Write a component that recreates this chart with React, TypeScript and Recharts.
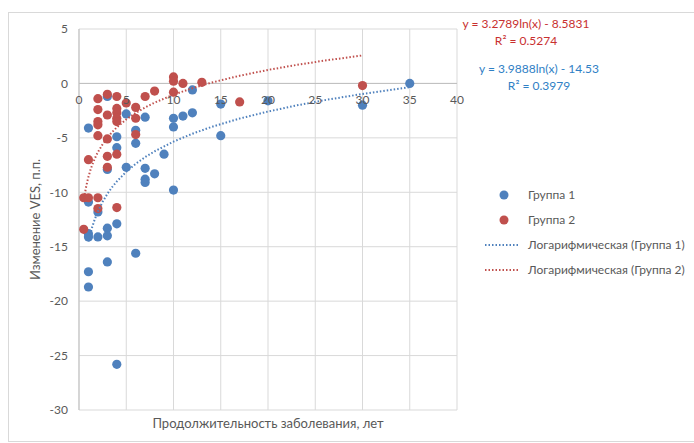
import { ScatterChart, Scatter, XAxis, YAxis, CartesianGrid, ReferenceLine } from 'recharts';

// Группа 1: [лет, изменение VES]
const group1X = [1, 1, 1, 1, 1, 1, 2, 2, 3, 3, 3, 3, 3, 4, 4, 4, 4, 5, 5, 6, 6, 6, 7, 7, 7, 7, 8, 9, 10, 10, 10, 11, 12, 12, 15, 15, 20, 30, 35];
const group1Y = [-4.1, -10.9, -13.8, -14.1, -17.3, -18.7, -11.8, -14.1, -1.2, -7.9, -13.3, -14.0, -16.4, -4.9, -5.9, -12.9, -25.8, -2.8, -7.7, -4.3, -5.5, -15.6, -3.1, -7.8, -8.8, -9.1, -8.3, -6.5, -3.2, -4.0, -9.8, -3.0, -0.6, -2.7, -1.9, -4.8, -1.6, -2.0, 0.0];

// Группа 2
const group2X = [0.5, 1, 0.5, 1, 2, 2, 2, 2, 2, 2, 2, 3, 3, 3, 3, 3, 4, 4, 4, 4, 4, 4, 4, 5, 6, 6, 6, 7, 8, 10, 10, 10, 11, 13, 17, 30];
const group2Y = [-10.5, -10.5, -13.4, -7.0, -1.4, -2.4, -3.5, -3.8, -4.8, -10.5, -11.5, -1.0, -2.9, -5.1, -6.7, -7.7, -1.2, -2.3, -2.7, -3.2, -3.5, -6.5, -11.4, -1.8, -2.2, -3.2, -4.7, -1.2, -0.7, 0.6, 0.2, -0.8, 0.0, 0.1, -1.7, -0.2];

// coefficients of the trendlines, as printed on the chart
const trend1 = { a: 3.9888, b: -14.53, r2: 0.3979, from: 1, to: 35 };
const trend2 = { a: 3.2789, b: -8.5831, r2: 0.5274, from: 0.5, to: 30 };
const trendXs = [0.5, 0.6, 0.7, 0.8, 0.9, 1, 1.2, 1.4, 1.6, 1.8, 2, 2.5, 3, 3.5, 4, 5, 6, 7, 8, 10, 12, 14, 17, 20, 23, 26, 30, 35];

const xTicks = [0, 5, 10, 15, 20, 25, 30, 35, 40];
const yTicks = [5, 0, -5, -10, -15, -20, -25, -30];

const BLUE = '#4F81BD';
const RED = '#C0504D';
const GRID = '#D9D9D9';
const TEXT = '#595959';
const FONT = 'Lato, "Open Sans", sans-serif';

const W = 685;
const H = 428;
const MARGIN = { top: 16, right: 237, bottom: 0, left: 0 };
const X_AXIS_H = 31;
const PLOT_H = H - MARGIN.top - MARGIN.bottom - X_AXIS_H;
const ZERO_Y = MARGIN.top + (5 / 35) * PLOT_H;

const pts = (xs: number[], ys: number[]) => xs.map((x, i) => ({ x, y: ys[i] }));
const points1 = pts(group1X, group1Y);
const points2 = pts(group2X, group2Y);

const trendPoints = (t: typeof trend1) =>
  trendXs.filter((x) => x >= t.from && x <= t.to).map((x) => ({ x, y: t.a * Math.log(x) + t.b }));

const legendItems = [
  { label: 'Группа 1', color: BLUE, kind: 'dot' },
  { label: 'Группа 2', color: RED, kind: 'dot' },
  { label: 'Логарифмическая (Группа 1)', color: BLUE, kind: 'line' },
  { label: 'Логарифмическая (Группа 2)', color: RED, kind: 'line' },
];

function Dot(color: string) {
  return (props: any) => <circle cx={props.cx} cy={props.cy} r={4.6} fill={color} />;
}

function XTick({ x, payload }: any) {
  return (
    <text x={x} y={ZERO_Y + 21} textAnchor="middle" fill={TEXT} fontSize={12} fontFamily={FONT}>
      {payload.value}
    </text>
  );
}

function LegendBox() {
  return (
    <div style={{ position: 'absolute', left: 476, top: 169, fontFamily: FONT, fontSize: 12, color: TEXT }}>
      {legendItems.map((it) => (
        <div key={it.label} style={{ display: 'flex', alignItems: 'center', height: 25 }}>
          <svg width={36} height={10} style={{ marginRight: 7 }}>
            {it.kind === 'dot' ? (
              <circle cx={19} cy={5} r={4.5} fill={it.color} />
            ) : (
              <line x1={0} y1={5} x2={35} y2={5} stroke={it.color} strokeWidth={2} strokeDasharray="1.5 2" />
            )}
          </svg>
          <span>{it.label}</span>
        </div>
      ))}
    </div>
  );
}

const eqStyle = (color: string, left: number, top: number) => ({
  position: 'absolute' as const,
  left,
  top,
  width: 160,
  textAlign: 'center' as const,
  color,
  fontFamily: FONT,
  fontSize: 12,
  lineHeight: '17px',
});

export default function App() {
  return (
    <div
      style={{
        position: 'absolute',
        left: 8,
        top: 12,
        width: W,
        height: H,
        borderTop: `1px solid ${GRID}`,
        borderLeft: `1px solid ${GRID}`,
        borderBottom: `1px solid ${GRID}`,
        background: '#fff',
      }}
    >
      <ScatterChart width={W} height={H} margin={MARGIN}>
        <CartesianGrid stroke={GRID} strokeWidth={1} />
        <XAxis
          type="number"
          dataKey="x"
          domain={[0, 40]}
          ticks={xTicks}
          height={X_AXIS_H}
          axisLine={false}
          tickLine={false}
          tick={<XTick />}
          label={{
            value: 'Продолжительность заболевания, лет',
            position: 'insideBottom',
            offset: 13,
            fill: TEXT,
            fontSize: 13,
            fontFamily: FONT,
          }}
        />
        <YAxis
          type="number"
          dataKey="y"
          domain={[-30, 5]}
          ticks={yTicks}
          width={70}
          axisLine={{ stroke: '#BFBFBF' }}
          tickLine={false}
          tickMargin={5}
          tick={{ fill: TEXT, fontSize: 12, fontFamily: FONT }}
          label={{
            value: 'Изменение VES, п.п.',
            angle: -90,
            position: 'insideLeft',
            offset: 26,
            fill: TEXT,
            fontSize: 13,
            fontFamily: FONT,
            style: { textAnchor: 'middle' },
          }}
        />
        <ReferenceLine y={0} stroke="#BFBFBF" />
        <Scatter name="Группа 1" data={points1} shape={Dot(BLUE)} isAnimationActive={false} />
        <Scatter name="Группа 2" data={points2} shape={Dot(RED)} isAnimationActive={false} />
        <Scatter
          name="Логарифмическая (Группа 1)"
          data={trendPoints(trend1)}
          line={{ stroke: BLUE, strokeWidth: 2, strokeDasharray: '1.5 2' }}
          lineType="joint"
          shape={() => null}
          isAnimationActive={false}
        />
        <Scatter
          name="Логарифмическая (Группа 2)"
          data={trendPoints(trend2)}
          line={{ stroke: RED, strokeWidth: 2, strokeDasharray: '1.5 2' }}
          lineType="joint"
          shape={() => null}
          isAnimationActive={false}
        />
      </ScatterChart>
      <LegendBox />
      <div style={eqStyle('#C8302F', 437, 2)}>
        <div>y = {trend2.a}ln(x) - {-trend2.b}</div>
        <div>R² = {trend2.r2}</div>
      </div>
      <div style={eqStyle('#2F80C5', 450, 47)}>
        <div>y = {trend1.a}ln(x) - {-trend1.b}</div>
        <div>R² = {trend1.r2}</div>
      </div>
    </div>
  );
}
